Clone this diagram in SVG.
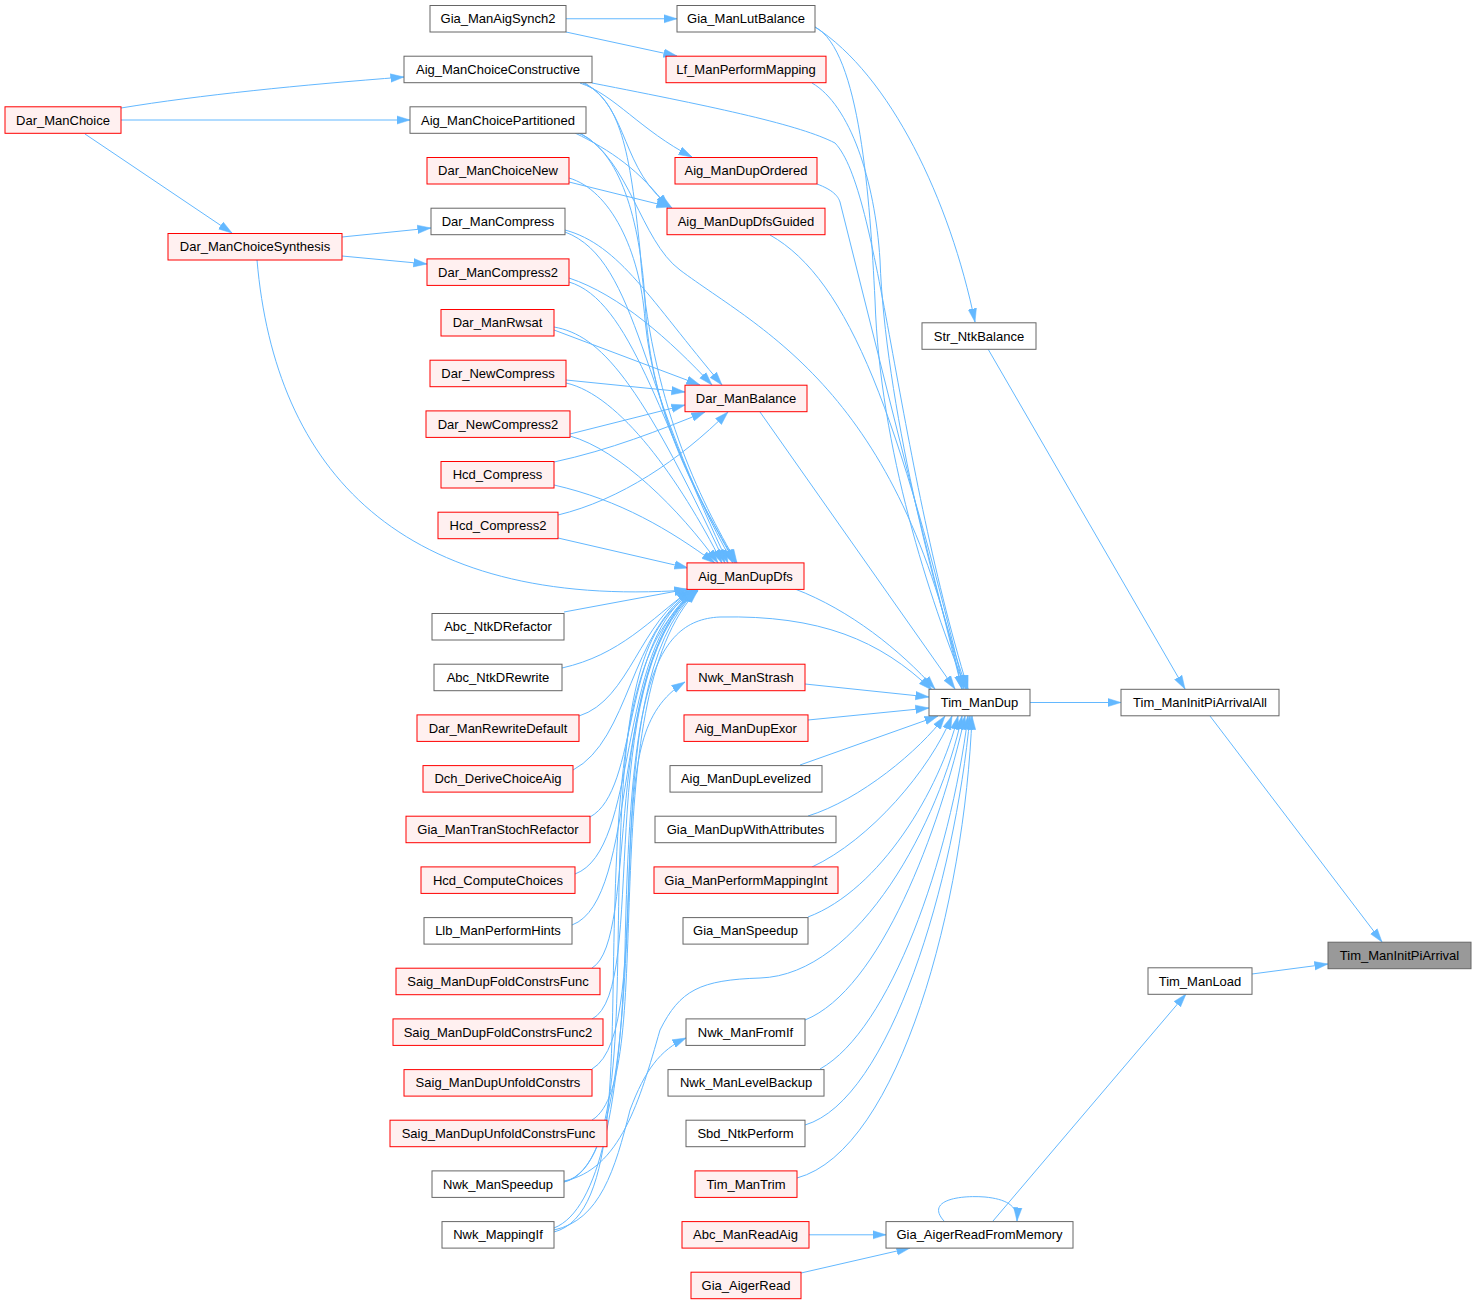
<svg xmlns="http://www.w3.org/2000/svg" width="1473" height="1304" viewBox="0 0 1473 1304">
<style>
rect{stroke-width:1}
.r rect{fill:#FFF0F0;stroke:#FF0000}
.g rect{fill:#FFFFFF;stroke:#666666}
.root rect{fill:#999999;stroke:#666666}
text{font-family:"Liberation Sans",Arial,Helvetica,sans-serif;font-size:13px;fill:#000;text-anchor:middle}
#edges path{fill:none;stroke:#63B8FF;stroke-width:1;marker-end:url(#a)}
</style>
<defs>
<marker id="a" markerUnits="userSpaceOnUse" viewBox="0 0 14 10" markerWidth="14" markerHeight="10" refX="13.5" refY="5" orient="auto">
<path d="M0,0.8 L13.5,5 L0,9.2 z" fill="#63B8FF" stroke="#63B8FF" stroke-width="0.5"/>
</marker>
</defs>
<rect width="1473" height="1304" fill="#FFFFFF"/>
<g id="edges">
<path d="M1210,716 L1382,942"/>
<path d="M1252,974 L1328,964"/>
<path d="M1030,702.5 L1121,702.5"/>
<path d="M988,349 L1185,689"/>
<path d="M815,27 C890,75 950,200 975,322"/>
<path d="M993,1221 L1186,994"/>
<path d="M944,1221 C925,1200 960,1195 985,1197 C1005,1199 1018,1205 1017,1221"/>
<path d="M809,1234.8 L886,1234.8"/>
<path d="M801,1273 L910,1248"/>
<path d="M566,18.75 L677,18.75"/>
<path d="M566,32 L677,56"/>
<path d="M121,108 C200,95 300,85 404,77"/>
<path d="M121,120 L410,120"/>
<path d="M85,134 L232,233"/>
<path d="M342,237 L431,228"/>
<path d="M342,256 L427,264"/>
<path d="M257,260 C275,470 400,610 688,590"/>
<path d="M580,83 C615,95 640,130 692,157"/>
<path d="M585,83 C630,110 620,170 672,208"/>
<path d="M575,133 C610,150 640,170 668,208"/>
<path d="M569,182 L670,207"/>
<path d="M592,83 C720,108 800,125 835,143 C880,190 895,450 968,689"/>
<path d="M815,27 C860,50 870,200 875,300 C880,450 930,600 966,689"/>
<path d="M812,83 C850,105 875,180 880,260 C885,400 935,600 967,689"/>
<path d="M817,184 C833,190 838,196 840,202 L962,689"/>
<path d="M770,235 C850,280 900,420 964,689"/>
<path d="M580,133 C630,160 640,240 680,270 C760,330 900,390 962,689"/>
<path d="M760,412 L955,689"/>
<path d="M795,589 C850,610 900,650 935,689"/>
<path d="M805,684 L929,697"/>
<path d="M808,720 L929,708"/>
<path d="M800,765 L938,716"/>
<path d="M808,816 C860,800 920,750 945,716"/>
<path d="M812,867 C870,840 930,770 952,716"/>
<path d="M808,917 C880,890 940,790 958,716"/>
<path d="M564,1181 C620,1170 640,1100 660,1030 C680,990 700,980 760,978 C860,975 940,820 962,716"/>
<path d="M805,1020 C880,990 940,830 965,716"/>
<path d="M820,1069 C890,1030 950,860 968,716"/>
<path d="M805,1125 C890,1100 955,880 970,716"/>
<path d="M797,1178 C900,1150 965,900 972,716"/>
<path d="M554,1228 C600,1210 620,1100 625,950 C630,700 650,620 720,617 C820,615 880,640 932,690"/>
<path d="M565,230 C620,245 650,300 722,385"/>
<path d="M565,232 C640,260 640,400 733,563"/>
<path d="M569,278 C620,295 670,340 712,385"/>
<path d="M569,282 C630,300 660,420 728,563"/>
<path d="M554,330 L700,385"/>
<path d="M554,327 C600,335 640,380 725,563"/>
<path d="M566,380 L685,392"/>
<path d="M566,383 C620,395 680,480 722,563"/>
<path d="M570,434 L685,405"/>
<path d="M570,436 C620,450 680,510 718,563"/>
<path d="M554,462 C610,450 660,430 705,412"/>
<path d="M554,485 C620,500 670,530 715,563"/>
<path d="M558,515 C620,500 680,460 728,412"/>
<path d="M558,538 L688,568"/>
<path d="M569,178 C610,190 640,250 645,320 C655,420 700,500 735,563"/>
<path d="M583,83 C620,100 630,150 640,250 C650,400 700,500 737,563"/>
<path d="M578,133 C620,150 640,220 645,300 C650,420 700,500 736,563"/>
<path d="M564,612 L688,589"/>
<path d="M562,668 C620,655 650,620 690,590"/>
<path d="M579,716 C630,700 640,620 692,590"/>
<path d="M573,770 C630,740 630,630 693,590"/>
<path d="M590,817 C640,790 620,640 694,590"/>
<path d="M575,874 C640,850 615,650 695,590"/>
<path d="M572,925 C640,900 610,660 695,590"/>
<path d="M592,968 C640,940 600,670 696,590"/>
<path d="M592,1019 C650,990 590,680 697,590"/>
<path d="M592,1069 C660,1030 590,690 697,590"/>
<path d="M592,1120 C660,1080 590,700 698,590"/>
<path d="M564,1182 C625,1165 615,1000 620,850 C625,700 640,620 698,590"/>
<path d="M554,1232 C620,1215 610,1050 615,900 C620,720 640,630 698,591"/>
<path d="M564,1182 C620,1170 625,1000 630,850 C635,760 640,710 685,682"/>
<path d="M554,1230 C600,1220 615,1170 630,1110 C645,1070 660,1050 686,1038"/>
</g>
<g id="Tim_ManInitPiArrival" class="root"><rect x="1328" y="942.2" width="143" height="26.5"/><text x="1399.5" y="960">Tim_ManInitPiArrival</text></g>
<g id="Tim_ManInitPiArrivalAll" class="g"><rect x="1121" y="689.3" width="158" height="26.5"/><text x="1200" y="707">Tim_ManInitPiArrivalAll</text></g>
<g id="Tim_ManLoad" class="g"><rect x="1148" y="967.8" width="104" height="26.5"/><text x="1200" y="985.5">Tim_ManLoad</text></g>
<g id="Tim_ManDup" class="g"><rect x="929" y="689.3" width="101" height="26.5"/><text x="979.5" y="707">Tim_ManDup</text></g>
<g id="Str_NtkBalance" class="g"><rect x="922" y="322.8" width="114" height="26.5"/><text x="979" y="340.5">Str_NtkBalance</text></g>
<g id="Gia_AigerReadFromMemory" class="g"><rect x="886" y="1221.6" width="187" height="26.5"/><text x="979.5" y="1239.3">Gia_AigerReadFromMemory</text></g>
<g id="Dar_ManChoice" class="r"><rect x="5" y="106.8" width="116" height="26.5"/><text x="63" y="124.6">Dar_ManChoice</text></g>
<g id="Dar_ManChoiceSynthesis" class="r"><rect x="168" y="233.5" width="174" height="26.5"/><text x="255" y="251.3">Dar_ManChoiceSynthesis</text></g>
<g id="Gia_ManAigSynch2" class="g"><rect x="430" y="5.5" width="136" height="26.5"/><text x="498" y="23.2">Gia_ManAigSynch2</text></g>
<g id="Aig_ManChoiceConstructive" class="g"><rect x="404" y="56.2" width="188" height="26.5"/><text x="498" y="73.9">Aig_ManChoiceConstructive</text></g>
<g id="Aig_ManChoicePartitioned" class="g"><rect x="410" y="106.8" width="176" height="26.5"/><text x="498" y="124.6">Aig_ManChoicePartitioned</text></g>
<g id="Dar_ManChoiceNew" class="r"><rect x="427" y="157.5" width="142" height="26.5"/><text x="498" y="175.3">Dar_ManChoiceNew</text></g>
<g id="Dar_ManCompress" class="g"><rect x="431" y="208.2" width="134" height="26.5"/><text x="498" y="225.9">Dar_ManCompress</text></g>
<g id="Dar_ManCompress2" class="r"><rect x="427" y="258.9" width="142" height="26.5"/><text x="498" y="276.6">Dar_ManCompress2</text></g>
<g id="Dar_ManRwsat" class="r"><rect x="441" y="309.5" width="113" height="26.5"/><text x="497.5" y="327.3">Dar_ManRwsat</text></g>
<g id="Dar_NewCompress" class="r"><rect x="430" y="360.2" width="136" height="26.5"/><text x="498" y="377.9">Dar_NewCompress</text></g>
<g id="Dar_NewCompress2" class="r"><rect x="426" y="410.9" width="144" height="26.5"/><text x="498" y="428.6">Dar_NewCompress2</text></g>
<g id="Hcd_Compress" class="r"><rect x="441" y="461.5" width="113" height="26.5"/><text x="497.5" y="479.3">Hcd_Compress</text></g>
<g id="Hcd_Compress2" class="r"><rect x="438" y="512.2" width="120" height="26.5"/><text x="498" y="529.9">Hcd_Compress2</text></g>
<g id="Abc_NtkDRefactor" class="g"><rect x="432" y="613.5" width="132" height="26.5"/><text x="498" y="631.3">Abc_NtkDRefactor</text></g>
<g id="Abc_NtkDRewrite" class="g"><rect x="434" y="664.2" width="128" height="26.5"/><text x="498" y="681.9">Abc_NtkDRewrite</text></g>
<g id="Dar_ManRewriteDefault" class="r"><rect x="417" y="714.9" width="162" height="26.5"/><text x="498" y="732.6">Dar_ManRewriteDefault</text></g>
<g id="Dch_DeriveChoiceAig" class="r"><rect x="423" y="765.6" width="150" height="26.5"/><text x="498" y="783.3">Dch_DeriveChoiceAig</text></g>
<g id="Gia_ManTranStochRefactor" class="r"><rect x="406" y="816.2" width="184" height="26.5"/><text x="498" y="833.9">Gia_ManTranStochRefactor</text></g>
<g id="Hcd_ComputeChoices" class="r"><rect x="421" y="866.9" width="154" height="26.5"/><text x="498" y="884.6">Hcd_ComputeChoices</text></g>
<g id="Llb_ManPerformHints" class="g"><rect x="424" y="917.6" width="148" height="26.5"/><text x="498" y="935.3">Llb_ManPerformHints</text></g>
<g id="Saig_ManDupFoldConstrsFunc" class="r"><rect x="396" y="968.2" width="204" height="26.5"/><text x="498" y="985.9">Saig_ManDupFoldConstrsFunc</text></g>
<g id="Saig_ManDupFoldConstrsFunc2" class="r"><rect x="393" y="1018.9" width="210" height="26.5"/><text x="498" y="1036.6">Saig_ManDupFoldConstrsFunc2</text></g>
<g id="Saig_ManDupUnfoldConstrs" class="r"><rect x="404" y="1069.6" width="188" height="26.5"/><text x="498" y="1087.3">Saig_ManDupUnfoldConstrs</text></g>
<g id="Saig_ManDupUnfoldConstrsFunc" class="r"><rect x="390" y="1120.2" width="217" height="26.5"/><text x="498.5" y="1137.9">Saig_ManDupUnfoldConstrsFunc</text></g>
<g id="Nwk_ManSpeedup" class="g"><rect x="432" y="1170.9" width="132" height="26.5"/><text x="498" y="1188.6">Nwk_ManSpeedup</text></g>
<g id="Nwk_MappingIf" class="g"><rect x="442" y="1221.6" width="112" height="26.5"/><text x="498" y="1239.3">Nwk_MappingIf</text></g>
<g id="Gia_ManLutBalance" class="g"><rect x="677" y="5.5" width="138" height="26.5"/><text x="746" y="23.2">Gia_ManLutBalance</text></g>
<g id="Lf_ManPerformMapping" class="r"><rect x="666" y="56.2" width="160" height="26.5"/><text x="746" y="73.9">Lf_ManPerformMapping</text></g>
<g id="Aig_ManDupOrdered" class="r"><rect x="675" y="157.5" width="142" height="26.5"/><text x="746" y="175.3">Aig_ManDupOrdered</text></g>
<g id="Aig_ManDupDfsGuided" class="r"><rect x="667" y="208.2" width="158" height="26.5"/><text x="746" y="225.9">Aig_ManDupDfsGuided</text></g>
<g id="Dar_ManBalance" class="r"><rect x="685" y="385.2" width="122" height="26.5"/><text x="746" y="403">Dar_ManBalance</text></g>
<g id="Aig_ManDupDfs" class="r"><rect x="687" y="562.9" width="117" height="26.5"/><text x="745.5" y="580.6">Aig_ManDupDfs</text></g>
<g id="Nwk_ManStrash" class="r"><rect x="687" y="664.2" width="118" height="26.5"/><text x="746" y="681.9">Nwk_ManStrash</text></g>
<g id="Aig_ManDupExor" class="r"><rect x="684" y="714.9" width="124" height="26.5"/><text x="746" y="732.6">Aig_ManDupExor</text></g>
<g id="Aig_ManDupLevelized" class="g"><rect x="670" y="765.6" width="152" height="26.5"/><text x="746" y="783.3">Aig_ManDupLevelized</text></g>
<g id="Gia_ManDupWithAttributes" class="g"><rect x="655" y="816.2" width="181" height="26.5"/><text x="745.5" y="833.9">Gia_ManDupWithAttributes</text></g>
<g id="Gia_ManPerformMappingInt" class="r"><rect x="654" y="866.9" width="184" height="26.5"/><text x="746" y="884.6">Gia_ManPerformMappingInt</text></g>
<g id="Gia_ManSpeedup" class="g"><rect x="683" y="917.6" width="125" height="26.5"/><text x="745.5" y="935.3">Gia_ManSpeedup</text></g>
<g id="Nwk_ManFromIf" class="g"><rect x="686" y="1018.9" width="119" height="26.5"/><text x="745.5" y="1036.6">Nwk_ManFromIf</text></g>
<g id="Nwk_ManLevelBackup" class="g"><rect x="668" y="1069.6" width="156" height="26.5"/><text x="746" y="1087.3">Nwk_ManLevelBackup</text></g>
<g id="Sbd_NtkPerform" class="g"><rect x="686" y="1120.2" width="119" height="26.5"/><text x="745.5" y="1137.9">Sbd_NtkPerform</text></g>
<g id="Tim_ManTrim" class="r"><rect x="695" y="1170.9" width="102" height="26.5"/><text x="746" y="1188.6">Tim_ManTrim</text></g>
<g id="Abc_ManReadAig" class="r"><rect x="682" y="1221.6" width="127" height="26.5"/><text x="745.5" y="1239.3">Abc_ManReadAig</text></g>
<g id="Gia_AigerRead" class="r"><rect x="691" y="1272.2" width="110" height="26.5"/><text x="746" y="1289.9">Gia_AigerRead</text></g>
</svg>
